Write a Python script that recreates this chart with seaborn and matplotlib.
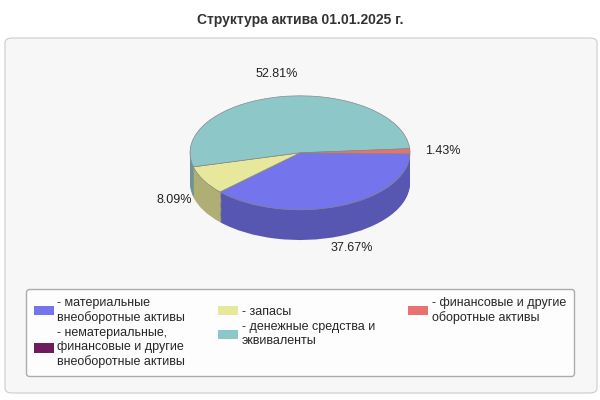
import matplotlib
matplotlib.use("Agg")
import matplotlib.pyplot as plt
import seaborn as sns
from matplotlib.patches import FancyBboxPatch
import matplotlib.colors as mc

categories = ["- материальные\nвнеоборотные активы",
              "- нематериальные,\nфинансовые и другие\nвнеоборотные активы",
              "- запасы",
              "- денежные средства и\nэквиваленты",
              "- финансовые и другие\nоборотные активы"]
values = [37.67, 0.0, 8.09, 52.81, 1.43]
colors = ["#7474ec", "#6e1a5c", "#e8e89c", "#8ec7c7", "#e87272"]

sns.set_theme(style="white")
plt.rcParams['font.family'] = ['Liberation Sans', 'DejaVu Sans']

fig = plt.figure(figsize=(6, 4), dpi=100)
fig.patch.set_facecolor("white")
fig.add_artist(FancyBboxPatch((5/600, 7/400), 592/600, 355/400,
               boxstyle="round,pad=0,rounding_size=0.012", transform=fig.transFigure,
               facecolor="#f7f7f7", edgecolor="#cccccc", lw=0.8, zorder=0))
fig.text(0.5, 1-20/400, "Структура актива 01.01.2025 г.", ha="center", va="center",
         fontsize=10, fontweight="bold", color="#333333")

ax = fig.add_axes([0.225, 0.39, 0.55, 0.4275])
ax.set_facecolor("none")
dark = [tuple(c*0.75 for c in mc.to_rgb(col)) for col in colors]
depth = 0.53
n = 27
for i in range(n, 0, -1):
    d = depth * i / n
    ax.pie(values, colors=dark, startangle=-1, counterclock=False, center=(0, -d),
           wedgeprops=dict(linewidth=0), normalize=True)

def fmt(p):
    return f"{p:.2f}%" if p > 0.1 else ""

wedges, texts, autotexts = ax.pie(values, colors=colors, startangle=-1, counterclock=False,
        autopct=fmt, pctdistance=1.3, normalize=True,
        wedgeprops=dict(linewidth=0.5, edgecolor="#888888"),
        textprops=dict(fontsize=9, color="#222222"))
ax.set_aspect("auto")
ax.set_xlim(-1.5, 1.5)
ax.set_ylim(-1.6, 1.4)
ax.axis("off")
for t in autotexts:
    t.set_clip_on(False)
# side labels of the lower half sit below the pie's side wall
autotexts[0].set_y(autotexts[0].get_position()[1] - 0.45)
autotexts[2].set_y(autotexts[2].get_position()[1] - 0.2)
autotexts[3].set_y(autotexts[3].get_position()[1] + 0.1)

leg = fig.legend(wedges, categories, loc="upper left", ncol=3,
                 bbox_to_anchor=(0.033, 0.045, 0.934, 0.2475), mode="expand",
                 frameon=True, fontsize=9, handlelength=1.6, handleheight=0.8,
                 borderpad=0.6, labelspacing=0.3, handletextpad=0.3,
                 fancybox=True, edgecolor="#999999", facecolor="white")
for h in leg.legend_handles:
    h.set_edgecolor("none")
fig.savefig("out.png", dpi=100)
